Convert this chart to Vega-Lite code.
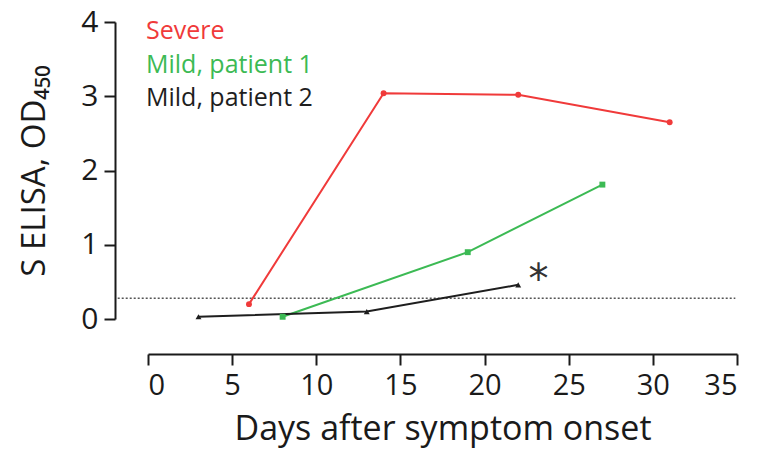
{
  "$schema": "https://vega.github.io/schema/vega-lite/v6.json",
  "width": 589,
  "height": 297,
  "autosize": {"type": "none"},
  "padding": {"left": 148, "top": 22, "right": 22, "bottom": 130},
  "background": "white",
  "config": {"view": {"stroke": null}, "font": "Open Sans"},
  "data": {
    "values": [
      {"series": "Severe", "day": 6, "od": 0.2},
      {"series": "Severe", "day": 14, "od": 3.04},
      {"series": "Severe", "day": 22, "od": 3.02},
      {"series": "Severe", "day": 31, "od": 2.65},
      {"series": "Mild, patient 1", "day": 8, "od": 0.03},
      {"series": "Mild, patient 1", "day": 19, "od": 0.9},
      {"series": "Mild, patient 1", "day": 27, "od": 1.81},
      {"series": "Mild, patient 2", "day": 3, "od": 0.03},
      {"series": "Mild, patient 2", "day": 13, "od": 0.1},
      {"series": "Mild, patient 2", "day": 22, "od": 0.46}
    ]
  },
  "layer": [
    {
      "data": {"values": [{"from": -1.8, "to": 34.9, "cutoff": 0.28}]},
      "mark": {"type": "rule", "strokeDash": [2, 2], "color": "#555555", "strokeWidth": 1.5},
      "encoding": {
        "x": {"field": "from", "type": "quantitative"},
        "x2": {"field": "to"},
        "y": {"field": "cutoff", "type": "quantitative"}
      }
    },
    {
      "mark": {"type": "line", "strokeWidth": 2},
      "encoding": {
        "x": {
          "field": "day", "type": "quantitative",
          "scale": {"domain": [0, 35], "nice": false, "zero": false},
          "axis": {
            "title": "Days after symptom onset",
            "values": [0, 5, 10, 15, 20, 25, 30, 35],
            "format": "d",
            "offset": 35, "grid": false,
            "domainColor": "#1a1a1a", "domainWidth": 2,
            "tickColor": "#1a1a1a", "tickWidth": 2, "tickSize": 11,
            "labelFontSize": 29, "labelColor": "#1a1a1a", "labelPadding": 6,
            "titleFontSize": 34, "titleFontWeight": "normal", "titleColor": "#1a1a1a", "titlePadding": 12
          }
        },
        "y": {
          "field": "od", "type": "quantitative",
          "scale": {"domain": [0, 4], "nice": false},
          "axis": {
            "title": "S ELISA, OD₄₅₀",
            "values": [0, 1, 2, 3, 4],
            "format": "d",
            "offset": 33, "grid": false,
            "domainColor": "#1a1a1a", "domainWidth": 2,
            "tickColor": "#1a1a1a", "tickWidth": 2, "tickSize": 11,
            "labelFontSize": 30, "labelColor": "#1a1a1a", "labelPadding": 6,
            "titleFontSize": 33, "titleFontWeight": "normal", "titleColor": "#1a1a1a", "titlePadding": 29
          }
        },
        "color": {
          "field": "series", "type": "nominal",
          "scale": {"domain": ["Severe", "Mild, patient 1", "Mild, patient 2"], "range": ["#f03a3a", "#3cba54", "#1e1e1e"]},
          "legend": {
            "title": null, "orient": "none", "legendX": -27, "legendY": -3.5,
            "symbolSize": 0, "symbolOpacity": 0, "symbolStrokeWidth": 0,
            "labelOffset": 0, "padding": 0, "rowPadding": 7.5,
            "labelFontSize": 25, "labelLimit": 400,
            "encode": {"labels": {"update": {"fill": {"scale": "color", "field": "value"}}}}
          }
        }
      }
    },
    {
      "mark": {"type": "point", "filled": true, "opacity": 1},
      "encoding": {
        "x": {"field": "day", "type": "quantitative"},
        "y": {"field": "od", "type": "quantitative"},
        "color": {"field": "series", "type": "nominal"},
        "shape": {
          "field": "series", "type": "nominal",
          "scale": {"domain": ["Severe", "Mild, patient 1", "Mild, patient 2"], "range": ["circle", "square", "triangle-up"]},
          "legend": null
        },
        "size": {"value": 35}
      }
    },
    {
      "data": {"values": [{"day": 23.2, "od": 0.62, "mark": "*"}]},
      "mark": {"type": "text", "font": "DejaVu Sans", "fontSize": 40, "color": "#333333", "align": "center", "baseline": "middle", "dy": 8},
      "encoding": {
        "x": {"field": "day", "type": "quantitative"},
        "y": {"field": "od", "type": "quantitative"},
        "text": {"field": "mark"}
      }
    }
  ]
}
